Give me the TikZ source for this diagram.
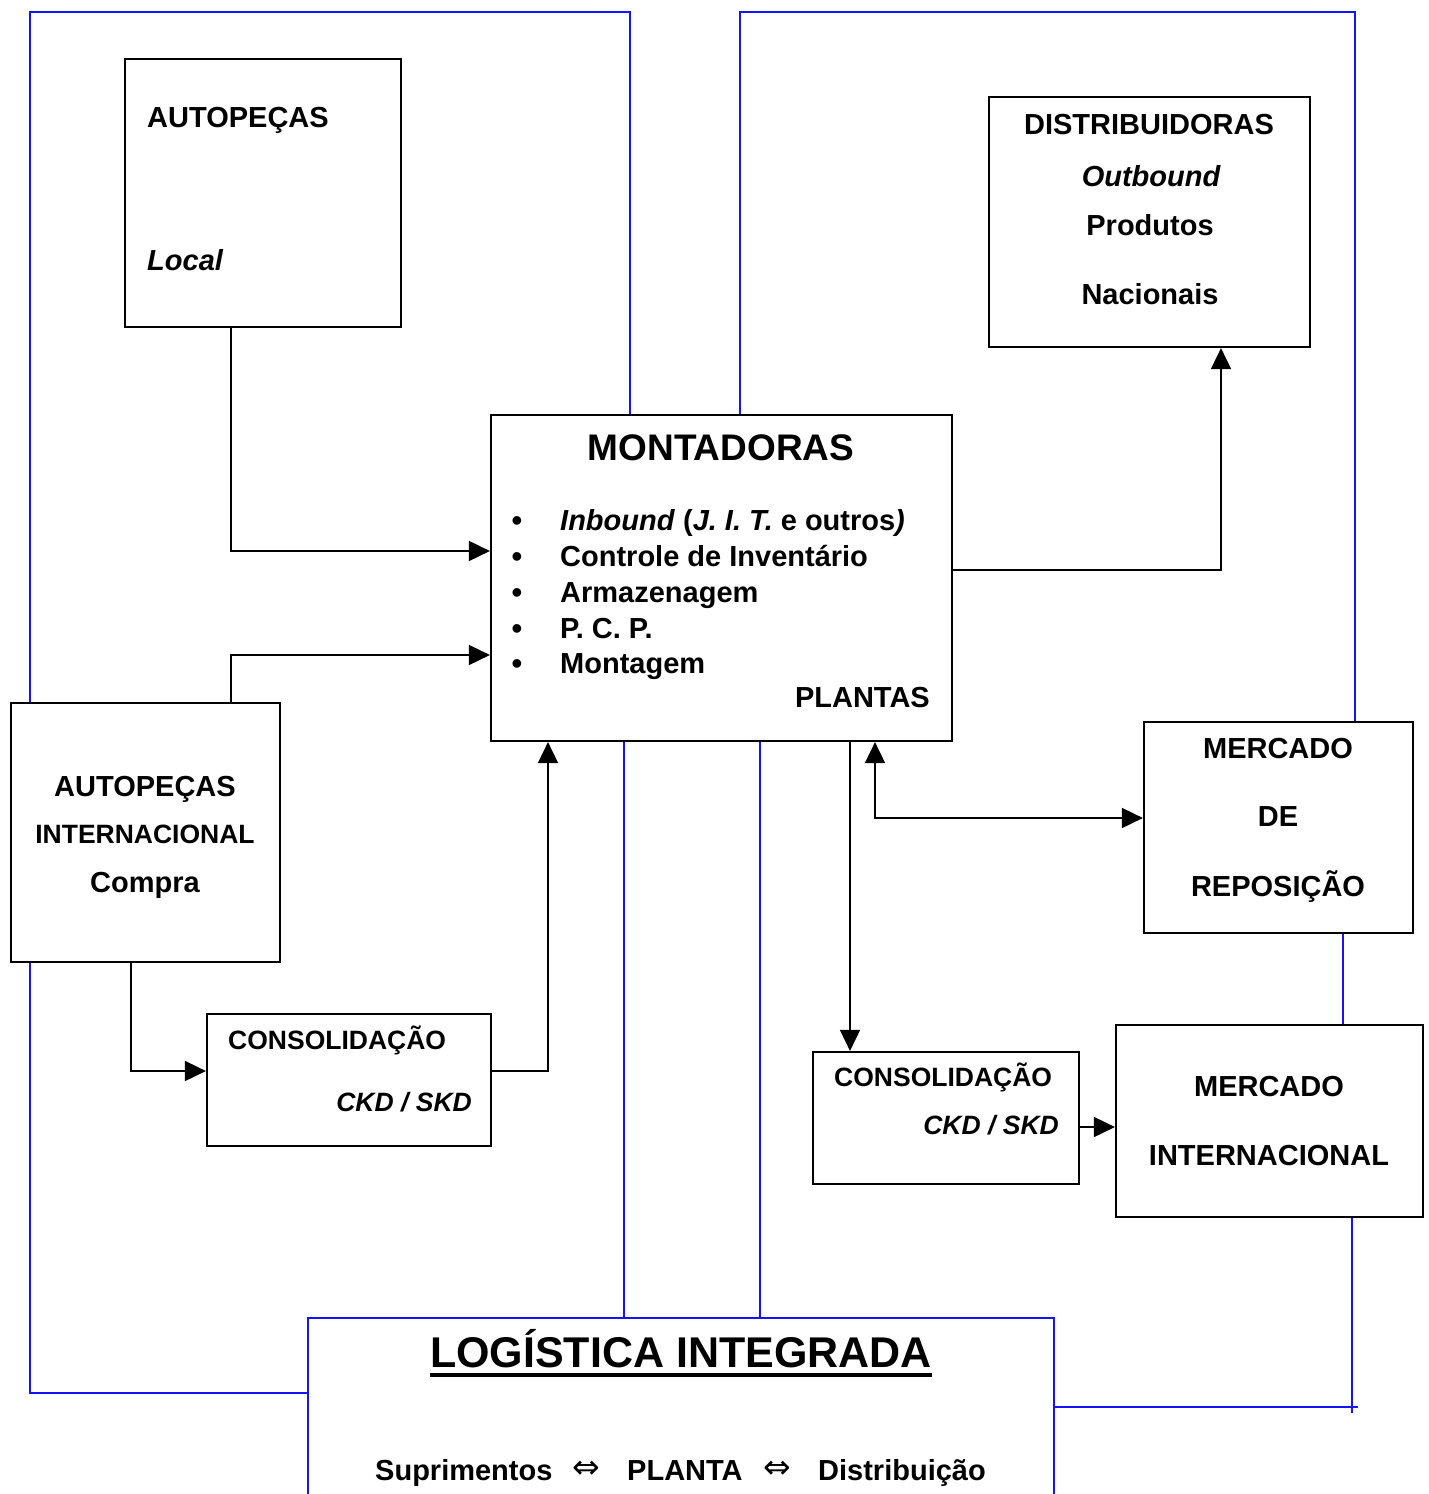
\documentclass[tikz,border=0pt]{standalone}
\usepackage{fontspec}
\setmainfont{Liberation Sans}
\newfontfamily\symfont{DejaVu Sans}
\usetikzlibrary{arrows.meta}
\definecolor{linkblue}{RGB}{20,20,250}

\begin{document}
\begin{tikzpicture}[x=1pt,y=-1pt,
  box/.style={draw, line width=2.2pt, rectangle, inner sep=0pt},
  conn/.style={line width=1.8pt, -{Triangle[length=21pt,width=20pt]}},
  dconn/.style={line width=1.8pt, {Triangle[length=21pt,width=20pt]}-{Triangle[length=21pt,width=20pt]}},
  link/.style={draw=linkblue, line width=2pt},
  lbl/.style={inner sep=0pt, font=\bfseries\fontsize{29}{31}\selectfont},
  lbli/.style={inner sep=0pt, font=\bfseries\itshape\fontsize{29}{31}\selectfont},
  small/.style={inner sep=0pt, font=\bfseries\fontsize{26.5}{28}\selectfont},
  smalli/.style={inner sep=0pt, font=\bfseries\itshape\fontsize{26.5}{28}\selectfont},
  dot/.style={inner sep=0pt, font=\fontsize{32}{34}\selectfont},
  equiv/.style={inner sep=0pt, font=\symfont\fontsize{33}{35}\selectfont},
]
\useasboundingbox (0,0) rectangle (1428,1494);
\clip (0,0) rectangle (1428,1494);

% boxes
\node[box, minimum width=276pt, minimum height=268pt] (local)   at (263,193) {};
\node[box, minimum width=321pt, minimum height=250pt] (distrib) at (1149.5,222) {};
\node[box, minimum width=461pt, minimum height=326pt] (mont)    at (721.5,578) {};
\node[box, minimum width=269pt, minimum height=259pt] (autint)  at (145.5,832.5) {};
\node[box, minimum width=284pt, minimum height=132pt] (consL)   at (349,1080) {};
\node[box, minimum width=266pt, minimum height=132pt] (consR)   at (946,1118) {};
\node[box, minimum width=269pt, minimum height=211pt] (mrep)    at (1278.5,827.5) {};
\node[box, minimum width=307pt, minimum height=192pt] (mint)    at (1269.5,1121) {};
\node[box, draw=linkblue, line width=2pt, minimum width=746pt, minimum height=212pt] (logi) at (681,1424) {};

% texts
\node[lbl, anchor=base west] (localA) at (147,127) {AUTOPEÇAS};
\node[lbli, anchor=base west] (localB) at (147,270) {Local};

\node[lbl, anchor=base] (distA) at (1149,134) {DISTRIBUIDORAS};
\node[lbli, anchor=base] (distB) at (1151,186) {Outbound};
\node[lbl, anchor=base] (distC) at (1150,235) {Produtos};
\node[lbl, anchor=base] (distD) at (1150,304) {Nacionais};

\node[inner sep=0pt, font=\bfseries\fontsize{37}{40}\selectfont, anchor=base] (montT) at (721,460) {MONTADORAS};
\node[dot, anchor=base] (b1) at (517,531) {•};
\node[dot, anchor=base] (b2) at (517,567) {•};
\node[dot, anchor=base] (b3) at (517,603) {•};
\node[dot, anchor=base] (b4) at (517,639) {•};
\node[dot, anchor=base] (b5) at (517,674) {•};
\node[lbl, anchor=base west] (m1) at (560,530) {\textit{Inbound} (\textit{J. I. T.} e outros\textit{)}};
\node[lbl, anchor=base west] (m2) at (560,566) {Controle de Inventário};
\node[lbl, anchor=base west] (m3) at (560,602) {Armazenagem};
\node[lbl, anchor=base west] (m4) at (560,638) {P. C. P.};
\node[lbl, anchor=base west] (m5) at (560,673) {Montagem};
\node[lbl, anchor=base east] (plantas) at (930,707) {PLANTAS};

\node[lbl, anchor=base] (intA) at (145,796) {AUTOPEÇAS};
\node[small, anchor=base] (intB) at (145,843) {INTERNACIONAL};
\node[lbl, anchor=base] (intC) at (145,892) {Compra};

\node[small, anchor=base west] (clA) at (228,1049) {CONSOLIDAÇÃO};
\node[smalli, anchor=base east] (clB) at (472,1111) {CKD / SKD};
\node[small, anchor=base west] (crA) at (834,1086) {CONSOLIDAÇÃO};
\node[smalli, anchor=base east] (crB) at (1059,1134) {CKD / SKD};

\node[lbl, anchor=base] (repA) at (1278,758) {MERCADO};
\node[lbl, anchor=base] (repB) at (1278,826) {DE};
\node[lbl, anchor=base] (repC) at (1278,896) {REPOSIÇÃO};

\node[lbl, anchor=base] (miA) at (1269,1096) {MERCADO};
\node[lbl, anchor=base] (miB) at (1269,1165) {INTERNACIONAL};

\node[inner sep=0pt, font=\bfseries\fontsize{43}{46}\selectfont, anchor=base] (title) at (681,1367) {LOGÍSTICA INTEGRADA};
\draw[line width=4pt] ([yshift=-8pt]title.base west) -- ([yshift=-8pt]title.base east);

\node[lbl, anchor=base west] (sup) at (375,1480) {Suprimentos};
\node[equiv] (eq1) at (586,1470) {⇔};
\node[lbl, anchor=base west] (pla) at (627,1480) {PLANTA};
\node[equiv] (eq2) at (777,1470) {⇔};
\node[lbl, anchor=base west] (dis) at (818,1480) {Distribuição};

% material flow
\draw[conn] (231,0 |- local.south) |- (mont.west |- 0,551);
\draw[conn] (231,0 |- autint.north) |- (mont.west |- 0,655);
\draw[conn] (131,0 |- autint.south) |- (consL.west |- 0,1071);
\draw[conn] (consL.east |- 0,1071) -| (548,0 |- mont.south);
\draw[conn] (mont.east |- 0,570) -| (1221,0 |- distrib.south);
\draw[conn] (850,0 |- mont.south) -- (850,0 |- consR.north);
\draw[dconn] (875,0 |- mont.south) |- (mrep.west |- 0,818);
\draw[conn] (consR.east |- 0,1127) -- (mint.west |- 0,1127);

% integration links
\coordinate (tl) at (30,12);
\coordinate (tr) at (1355,12);
\coordinate (br) at (1352,1413);
\coordinate (be) at (1358,1407);
\draw[link] (630,0 |- mont.north) |- (tl) -- (30,0 |- autint.north);
\draw[link] (30,0 |- autint.south) |- (logi.west |- 0,1393);
\draw[link] (740,0 |- mont.north) |- (tr) -- (1355,0 |- mrep.north);
\draw[link] (1343,0 |- mrep.south) -- (1343,0 |- mint.north);
\draw[link] (1352,0 |- mint.south) -- (br);
\draw[link] (logi.east |- 0,1407) -- (be);
\draw[link] (624,0 |- mont.south) -- (624,0 |- logi.north);
\draw[link] (760,0 |- mont.south) -- (760,0 |- logi.north);
\end{tikzpicture}
\end{document}
